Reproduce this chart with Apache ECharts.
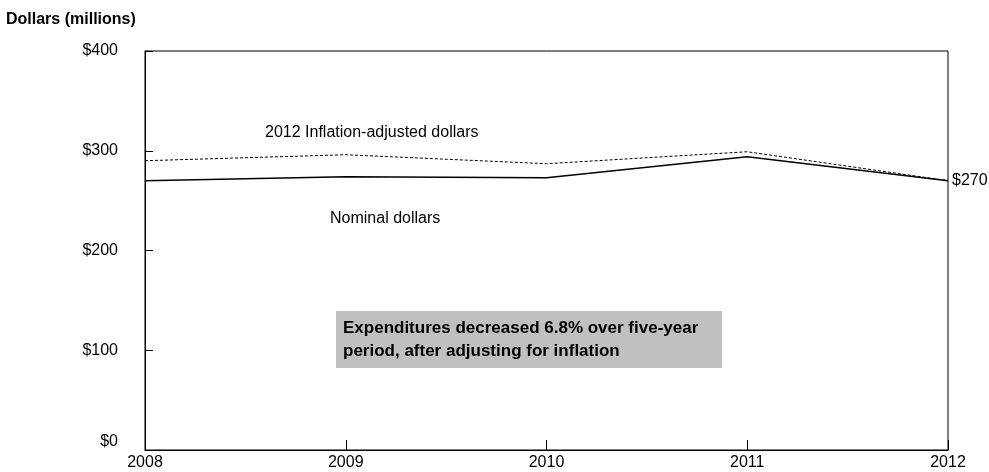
<!DOCTYPE html>
<html>
<head>
<meta charset="utf-8">
<script src="https://cdn.jsdelivr.net/npm/echarts@6/dist/echarts.min.js"></script>
<style>html,body{margin:0;padding:0;background:#fff}#c{width:989px;height:472px}</style>
</head>
<body>
<div id="c"></div>
<script>
const years = ['2008', '2009', '2010', '2011', '2012'];
const nominal = [270, 274, 273, 294, 270];
const inflationAdjusted = [290, 296, 287, 299, 270];
const yTicks = [0, 100, 200, 300, 400];

const FONT = '"Liberation Sans", Arial, sans-serif';
const chart = echarts.init(document.getElementById('c'));
chart.setOption({
  animation: false,
  backgroundColor: '#fff',
  grid: { left: 145, right: 41, top: 51, bottom: 22, show: true, borderColor: '#000', borderWidth: 1, backgroundColor: 'transparent' },
  xAxis: {
    type: 'category', data: years, boundaryGap: false,
    axisLine: { lineStyle: { color: '#000', width: 1 } },
    axisTick: { inside: true, length: 10, lineStyle: { color: '#000' } },
    axisLabel: { color: '#000', fontFamily: FONT, fontSize: 16, margin: 5 },
    splitLine: { show: false }
  },
  yAxis: {
    type: 'value', min: 0, max: 400, interval: 100,
    axisLine: { show: true, lineStyle: { color: '#000', width: 1 } },
    axisTick: { show: true, inside: true, length: 8, lineStyle: { color: '#000' } },
    axisLabel: { color: '#000', fontFamily: FONT, fontSize: 16, margin: 27,
      formatter: v => yTicks.includes(v) ? (v === 0 ? '{z|$0}' : '$' + v) : '',
      rich: { z: { fontFamily: FONT, fontSize: 16, color: '#000', padding: [0, 0, 16, 0] } } },
    splitLine: { show: false }
  },
  series: [
    {
      name: '2012 Inflation-adjusted dollars', type: 'line', data: inflationAdjusted,
      symbol: 'none', lineStyle: { color: '#000', width: 1, type: [3, 2] }
    },
    {
      name: 'Nominal dollars', type: 'line', data: nominal,
      symbol: 'none', lineStyle: { color: '#000', width: 1.5 },
      endLabel: { show: true, formatter: p => '$' + p.value, color: '#000', fontFamily: FONT, fontSize: 16, distance: 4 }
    }
  ],
  graphic: [
    { type: 'text', left: 6, top: 12, style: { text: 'Dollars (millions)', font: 'bold 16px ' + FONT, fill: '#000' } },
    { type: 'text', left: 265, top: 125, style: { text: '2012 Inflation-adjusted dollars', font: '16px ' + FONT, fill: '#000' } },
    { type: 'text', left: 330, top: 211, style: { text: 'Nominal dollars', font: '16px ' + FONT, fill: '#000' } },
    { type: 'rect', left: 336, top: 311, shape: { width: 386, height: 57 }, style: { fill: '#c0c0c0' } },
    { type: 'text', left: 343, top: 317, style: { text: 'Expenditures decreased 6.8% over five-year\nperiod, after adjusting for inflation', font: 'bold 17px ' + FONT, lineHeight: 23, fill: '#000' } }
  ]
});
</script>
</body>
</html>
